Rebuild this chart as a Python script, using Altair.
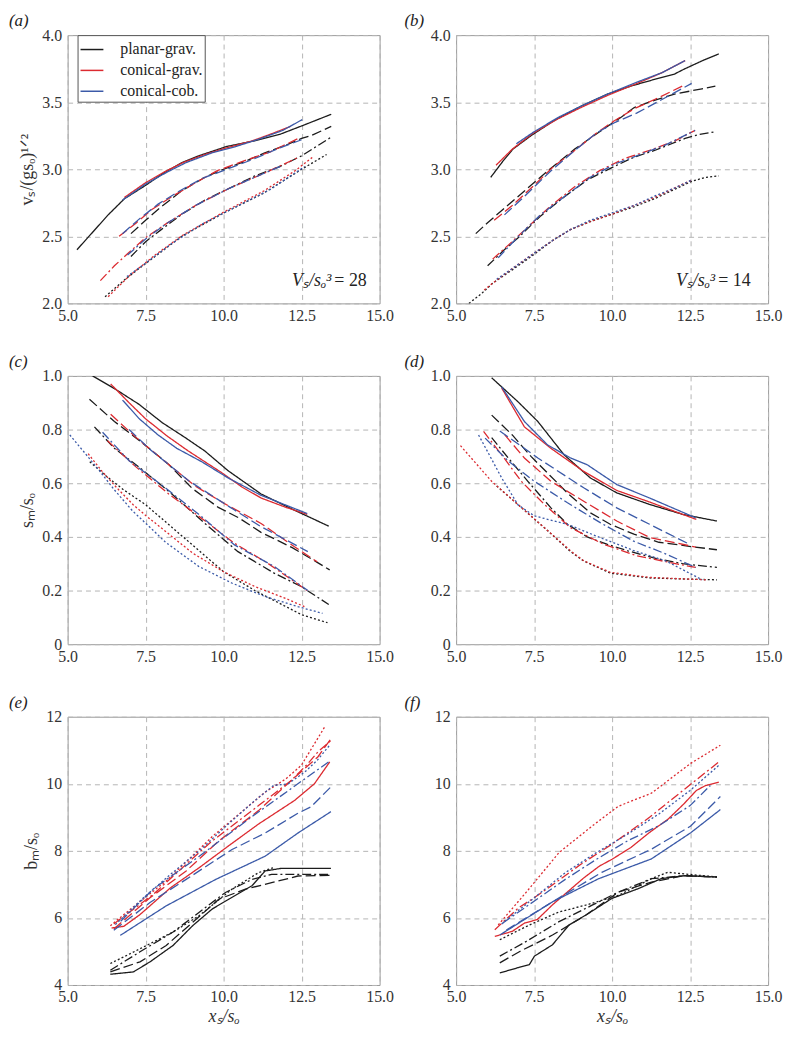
import altair as alt
import pandas as pd

MODELS = ["planar-grav.", "conical-grav.", "conical-cob."]
MODEL_COLORS = ["#1c1c1c", "#dc2a30", "#3b5aa8"]
STYLES = ["solid", "dash", "dashdot", "dot"]
STYLE_DASH = [[1, 0], [10, 4], [9, 3, 2, 3], [2, 2.2]]
STYLE_WIDTH = [1.3, 1.3, 1.3, 1.7]

X_TICKS = [5.0, 7.5, 10.0, 12.5, 15.0]

# ---------------- panel (a): v_s/(g s_o)^1/2, V_s/s_o^3 = 28 ----------------
a_blk_solid = [[5.3, 2.4], [5.8, 2.53], [6.3, 2.66], [6.82, 2.78], [7.5, 2.88], [8.13, 2.98], [8.67, 3.05], [9.2, 3.1], [10.1, 3.17], [10.95, 3.21], [11.8, 3.26], [12.58, 3.33], [13.45, 3.41]]
a_red_solid = [[6.82, 2.79], [7.5, 2.9], [8.1, 2.98], [8.7, 3.05], [9.4, 3.11], [10.1, 3.16], [10.9, 3.21], [11.6, 3.27], [12.15, 3.32]]
a_blu_solid = [[6.76, 2.77], [7.5, 2.89], [8.2, 2.98], [8.8, 3.05], [9.6, 3.12], [10.4, 3.17], [11.2, 3.23], [11.9, 3.29], [12.52, 3.37]]
a_blk_dash = [[7.03, 2.52], [7.5, 2.62], [8.0, 2.72], [8.66, 2.84], [9.4, 2.94], [10.0, 3.0], [10.7, 3.06], [11.3, 3.12], [12.0, 3.18], [12.5, 3.23], [12.8, 3.25], [13.45, 3.32]]
a_red_dash = [[6.65, 2.5], [7.2, 2.6], [7.7, 2.7], [8.3, 2.79], [9.1, 2.9], [9.8, 2.99], [10.5, 3.05], [11.5, 3.13], [12.4, 3.23]]
a_blu_dash = [[6.76, 2.52], [7.3, 2.63], [7.9, 2.74], [8.6, 2.84], [9.3, 2.93], [10.1, 3.0], [10.9, 3.07], [11.7, 3.15], [12.5, 3.22]]
a_blk_dd = [[7.03, 2.35], [7.5, 2.46], [8.0, 2.55], [8.7, 2.67], [9.4, 2.77], [10.2, 2.86], [11.0, 2.95], [11.8, 3.02], [12.5, 3.1], [13.45, 3.24]]
a_red_dd = [[6.05, 2.17], [6.5, 2.28], [6.92, 2.37], [7.5, 2.49], [8.2, 2.6], [9.1, 2.73], [10.2, 2.86], [11.3, 2.97], [12.41, 3.09]]
a_blu_dd = [[6.92, 2.36], [7.5, 2.48], [8.2, 2.6], [9.1, 2.73], [10.2, 2.86], [11.3, 2.97], [11.9, 3.03]]
a_blk_dot = [[6.2, 2.05], [6.9, 2.19], [7.8, 2.35], [8.66, 2.5], [9.97, 2.67], [11.27, 2.82], [12.5, 3.0], [13.3, 3.11]]
a_red_dot = [[6.3, 2.05], [7.0, 2.21], [7.8, 2.36], [8.7, 2.51], [10.0, 2.68], [11.3, 2.84], [12.3, 2.99], [12.85, 3.09]]
a_blu_dot = [[6.9, 2.2], [7.5, 2.3], [8.3, 2.44], [9.3, 2.59], [10.4, 2.72], [11.5, 2.85], [12.6, 3.02]]

# ---------------- panel (b): v_s/(g s_o)^1/2, V_s/s_o^3 = 14 ----------------
b_blk_solid = [[6.11, 2.94], [6.5, 3.06], [6.82, 3.15], [7.4, 3.25], [8.12, 3.36], [9.0, 3.47], [9.85, 3.56], [10.6, 3.62], [11.36, 3.67], [12.0, 3.71], [12.34, 3.75], [12.9, 3.81], [13.42, 3.86]]
b_red_solid = [[6.28, 3.03], [6.8, 3.15], [7.47, 3.27], [8.3, 3.38], [9.0, 3.46], [9.85, 3.55], [10.8, 3.64], [11.6, 3.72], [12.34, 3.81]]
b_blu_solid = [[6.93, 3.19], [7.5, 3.28], [8.3, 3.39], [9.0, 3.47], [9.85, 3.56], [10.8, 3.65], [11.6, 3.72], [12.34, 3.81]]
b_blk_dash = [[5.63, 2.52], [6.0, 2.6], [6.5, 2.7], [7.2, 2.84], [8.0, 3.0], [8.8, 3.15], [9.6, 3.28], [10.3, 3.39], [10.71, 3.46], [11.3, 3.51], [12.0, 3.56], [12.88, 3.6], [13.31, 3.62]]
b_red_dash = [[6.22, 2.62], [6.8, 2.73], [7.5, 2.88], [8.12, 3.02], [8.8, 3.14], [9.5, 3.27], [10.06, 3.36], [10.7, 3.45], [11.36, 3.52], [11.9, 3.58], [12.34, 3.63]]
b_blu_dash = [[6.55, 2.66], [7.2, 2.8], [8.0, 2.98], [8.8, 3.14], [9.5, 3.27], [10.1, 3.35], [10.8, 3.42], [11.6, 3.52], [12.55, 3.64]]
b_blk_dd = [[6.01, 2.28], [6.5, 2.39], [7.04, 2.5], [7.7, 2.65], [8.44, 2.79], [9.2, 2.92], [10.06, 3.02], [10.7, 3.09], [11.36, 3.14], [12.34, 3.23], [12.8, 3.26], [13.31, 3.28]]
b_red_dd = [[6.17, 2.33], [6.7, 2.44], [7.3, 2.57], [8.0, 2.72], [8.8, 2.87], [9.6, 2.99], [10.4, 3.08], [11.2, 3.14], [12.0, 3.21], [12.66, 3.29]]
b_blu_dd = [[6.35, 2.34], [7.0, 2.5], [7.7, 2.66], [8.5, 2.8], [9.3, 2.94], [10.1, 3.04], [10.9, 3.11], [11.7, 3.18], [12.66, 3.29]]
b_blk_dot = [[5.41, 2.0], [5.8, 2.07], [6.17, 2.15], [6.8, 2.25], [7.47, 2.36], [8.1, 2.47], [8.66, 2.55], [9.3, 2.61], [10.06, 2.67], [10.7, 2.72], [11.36, 2.78], [12.0, 2.85], [12.55, 2.91], [13.0, 2.94], [13.42, 2.95]]
b_red_dot = [[5.9, 2.1], [6.17, 2.15], [6.8, 2.26], [7.47, 2.37], [8.1, 2.47], [8.66, 2.55], [9.3, 2.61], [10.06, 2.67], [10.7, 2.73], [11.36, 2.79], [12.0, 2.86], [12.55, 2.92]]
b_blu_dot = [[6.3, 2.18], [6.8, 2.26], [7.47, 2.37], [8.1, 2.47], [8.66, 2.55], [9.3, 2.62], [10.06, 2.68], [10.7, 2.73], [11.36, 2.8], [12.0, 2.86], [12.55, 2.92]]

# ---------------- panel (c): s_m/s_o, V_s/s_o^3 = 28 ----------------
c_blk_solid = [[5.8, 1.0], [6.54, 0.95], [7.29, 0.894], [8.03, 0.826], [8.77, 0.77], [9.4, 0.72], [10.14, 0.647], [11.2, 0.56], [12.26, 0.5], [13.37, 0.44]]
c_red_solid = [[6.38, 0.97], [6.97, 0.9], [7.5, 0.84], [8.2, 0.775], [8.87, 0.72], [9.93, 0.64], [10.6, 0.585], [11.2, 0.545], [12.0, 0.51], [12.68, 0.484]]
c_blu_solid = [[6.76, 0.91], [7.3, 0.84], [7.9, 0.78], [8.5, 0.73], [9.3, 0.68], [10.14, 0.62], [11.2, 0.555], [12.68, 0.487]]
c_blk_dash = [[5.7, 0.913], [6.5, 0.83], [7.18, 0.77], [8.24, 0.67], [9.0, 0.58], [9.83, 0.51], [10.5, 0.47], [11.2, 0.417], [12.2, 0.36], [13.0, 0.305], [13.4, 0.277]]
c_red_dash = [[6.38, 0.857], [7.2, 0.77], [8.03, 0.69], [9.08, 0.59], [10.03, 0.524], [11.2, 0.45], [12.26, 0.364], [13.0, 0.307]]
c_blu_dash = [[6.97, 0.8], [7.7, 0.72], [8.87, 0.61], [10.35, 0.5], [11.2, 0.438], [12.37, 0.366], [12.7, 0.345]]
c_blk_dd = [[5.86, 0.81], [6.5, 0.73], [7.29, 0.66], [8.34, 0.56], [9.4, 0.45], [10.46, 0.345], [11.62, 0.265], [12.47, 0.216], [13.37, 0.148]]
c_red_dd = [[6.28, 0.758], [7.2, 0.66], [8.24, 0.56], [9.4, 0.46], [10.35, 0.376], [11.41, 0.302], [12.68, 0.2]]
c_blu_dd = [[6.12, 0.79], [6.97, 0.684], [8.03, 0.592], [9.3, 0.475], [10.35, 0.37], [11.62, 0.29], [12.7, 0.2]]
c_blk_dot = [[5.71, 0.68], [6.2, 0.63], [6.8, 0.575], [7.5, 0.52], [8.2, 0.45], [9.0, 0.37], [10.0, 0.27], [11.0, 0.2], [12.0, 0.14], [12.5, 0.11], [13.33, 0.08]]
c_red_dot = [[5.66, 0.71], [6.1, 0.645], [6.6, 0.58], [7.1, 0.52], [7.5, 0.48], [8.2, 0.415], [9.0, 0.34], [10.0, 0.27], [11.0, 0.215], [12.0, 0.17], [12.59, 0.14]]
c_blu_dot = [[5.07, 0.78], [5.5, 0.72], [6.03, 0.645], [6.5, 0.575], [7.08, 0.497], [7.6, 0.44], [8.14, 0.38], [9.2, 0.29], [10.26, 0.228], [11.32, 0.178], [12.38, 0.14], [13.17, 0.115]]

# ---------------- panel (d): s_m/s_o, V_s/s_o^3 = 14 ----------------
d_blk_solid = [[6.14, 0.993], [6.98, 0.904], [7.62, 0.83], [8.46, 0.706], [9.3, 0.62], [10.15, 0.564], [11.2, 0.521], [12.26, 0.484], [13.36, 0.459]]
d_red_solid = [[6.46, 0.955], [7.19, 0.81], [8.04, 0.73], [9.09, 0.644], [10.15, 0.573], [11.2, 0.53], [12.7, 0.465]]
d_blu_solid = [[6.46, 0.959], [7.19, 0.83], [7.93, 0.743], [8.67, 0.694], [9.2, 0.669], [10.15, 0.595], [11.2, 0.545], [12.68, 0.471]]
d_blk_dash = [[6.14, 0.854], [6.8, 0.78], [7.4, 0.7], [8.0, 0.63], [8.6, 0.56], [9.3, 0.49], [9.94, 0.447], [10.7, 0.41], [11.5, 0.38], [12.47, 0.365], [13.36, 0.352]]
d_red_dash = [[6.56, 0.78], [7.19, 0.694], [8.04, 0.607], [9.09, 0.533], [10.15, 0.459], [11.2, 0.398], [12.68, 0.362]]
d_blu_dash = [[6.4, 0.795], [7.62, 0.694], [9.09, 0.583], [10.15, 0.508], [11.2, 0.447], [12.47, 0.373]]
d_blk_dd = [[6.14, 0.77], [6.7, 0.69], [7.3, 0.607], [8.04, 0.508], [8.57, 0.447], [9.2, 0.4], [9.83, 0.373], [10.5, 0.348], [11.4, 0.32], [12.26, 0.3], [13.36, 0.286]]
d_red_dd = [[5.88, 0.793], [6.46, 0.706], [7.09, 0.607], [7.83, 0.521], [8.67, 0.434], [9.72, 0.373], [10.78, 0.33], [11.83, 0.305], [12.68, 0.286]]
d_blu_dd = [[5.93, 0.768], [6.7, 0.68], [7.51, 0.607], [8.57, 0.527], [9.62, 0.453], [10.67, 0.385], [11.73, 0.336], [12.68, 0.286]]
d_blk_dot = [[6.3, 0.59], [6.98, 0.521], [7.83, 0.434], [8.67, 0.345], [9.09, 0.31], [9.94, 0.265], [11.2, 0.247], [12.3, 0.243], [13.36, 0.24]]
d_red_dot = [[5.14, 0.74], [6.14, 0.607], [6.98, 0.521], [7.83, 0.434], [8.67, 0.348], [9.09, 0.311], [9.94, 0.268], [11.2, 0.249], [13.0, 0.24]]
d_blu_dot = [[5.72, 0.78], [6.46, 0.62], [6.98, 0.52], [7.51, 0.478], [8.57, 0.447], [9.62, 0.397], [10.67, 0.35], [11.73, 0.31], [12.89, 0.24]]

# ---------------- panel (e): b_m/s_o, V_s/s_o^3 = 28 ----------------
e_blk_solid = [[6.37, 4.32], [7.11, 4.39], [7.64, 4.69], [8.38, 5.18], [9.01, 5.77], [9.64, 6.27], [10.17, 6.56], [10.91, 6.96], [11.33, 7.4], [11.86, 7.48], [13.44, 7.48]]
e_red_solid = [[6.41, 5.7], [6.8, 5.75], [7.32, 6.1], [8.3, 6.9], [9.22, 7.5], [10.16, 8.15], [11.12, 8.8], [12.27, 9.5], [12.91, 10.0], [13.4, 10.65]]
e_blu_solid = [[6.69, 5.48], [8.16, 6.36], [9.75, 7.15], [11.33, 7.84], [12.38, 8.53], [13.44, 9.17]]
e_blk_dash = [[6.37, 4.39], [7.32, 4.69], [8.16, 5.18], [9.01, 5.87], [9.85, 6.56], [10.7, 6.86], [11.54, 7.05], [12.38, 7.25], [13.44, 7.27]]
e_red_dash = [[6.48, 5.67], [7.64, 6.6], [8.8, 7.4], [9.85, 8.3], [11.12, 9.2], [12.17, 10.1], [13.02, 10.8], [13.44, 11.34]]
e_blu_dash = [[6.48, 5.63], [7.64, 6.46], [8.8, 7.15], [10.27, 8.04], [11.33, 8.53], [12.38, 9.12], [12.81, 9.32], [13.44, 9.91]]
e_blk_dd = [[6.37, 4.44], [7.32, 4.99], [8.38, 5.58], [9.22, 6.17], [10.06, 6.76], [10.91, 7.15], [11.54, 7.3], [13.44, 7.3]]
e_red_dd = [[6.48, 5.82], [7.74, 6.7], [8.8, 7.6], [9.64, 8.3], [11.12, 9.35], [12.17, 10.1], [12.7, 10.6], [13.02, 10.95], [13.44, 11.29]]
e_blu_dd = [[6.7, 5.9], [7.74, 6.86], [9.22, 7.84], [10.91, 9.02], [12.38, 10.0], [13.44, 10.7]]
e_blk_dot = [[6.37, 4.64], [7.32, 5.08], [8.38, 5.58], [9.22, 6.07], [10.27, 6.86], [11.12, 7.35], [11.6, 7.5]]
e_red_dot = [[6.37, 5.77], [7.2, 6.4], [8.16, 7.1], [9.0, 7.85], [9.64, 8.43], [10.5, 9.1], [11.33, 9.75], [12.0, 10.15], [12.49, 10.55], [13.23, 11.68]]
e_blu_dot = [[6.53, 5.8], [7.43, 6.6], [8.3, 7.3], [9.22, 8.0], [10.27, 8.9], [11.0, 9.5], [11.6, 9.95], [12.07, 10.0], [12.6, 10.35], [13.0, 10.7], [13.39, 11.14]]

# ---------------- panel (f): b_m/s_o, V_s/s_o^3 = 14 ----------------
f_blk_solid = [[6.4, 4.36], [7.0, 4.52], [7.35, 4.61], [7.51, 4.86], [8.09, 5.2], [8.62, 5.79], [9.15, 6.08], [9.99, 6.58], [10.83, 6.87], [11.57, 7.17], [12.31, 7.26], [13.36, 7.22]]
f_red_solid = [[6.24, 5.45], [6.8, 5.6], [7.2, 5.85], [7.6, 5.95], [8.1, 6.4], [8.6, 6.8], [9.1, 7.2], [9.6, 7.55], [10.0, 7.75], [10.6, 8.1], [11.2, 8.55], [11.8, 8.95], [12.3, 9.4], [12.7, 9.8], [13.0, 9.95], [13.42, 10.05]]
f_blu_solid = [[6.4, 5.49], [8.09, 6.48], [9.57, 7.17], [11.26, 7.76], [12.52, 8.54], [13.47, 9.23]]
f_blk_dash = [[6.4, 4.66], [7.04, 5.0], [8.09, 5.49], [9.15, 6.08], [10.2, 6.77], [11.26, 7.07], [12.31, 7.26], [13.36, 7.22]]
f_blu_dash = [[6.61, 5.64], [8.09, 6.48], [9.67, 7.36], [11.26, 8.05], [12.52, 8.74], [13.47, 9.62]]
f_blk_dd = [[6.4, 4.86], [7.25, 5.3], [8.3, 5.89], [9.36, 6.38], [10.2, 6.77], [11.26, 7.17], [12.31, 7.26], [13.36, 7.22]]
f_red_dd = [[6.24, 5.65], [7.0, 6.3], [7.5, 6.6], [8.04, 6.95], [9.0, 7.6], [10.0, 8.2], [10.6, 8.6], [11.2, 9.0], [11.8, 9.45], [12.47, 9.95], [13.42, 10.65]]
f_blu_dd = [[6.5, 5.85], [7.5, 6.5], [8.5, 7.15], [9.5, 7.75], [10.5, 8.3], [11.5, 8.75], [12.5, 9.35], [13.15, 9.95]]
f_blk_dot = [[6.4, 5.35], [7.35, 5.79], [8.3, 6.18], [9.15, 6.38], [10.2, 6.67], [11.26, 7.17], [11.78, 7.36], [13.36, 7.22]]
f_red_dot = [[6.35, 5.79], [7.25, 6.77], [8.3, 7.95], [9.36, 8.74], [10.2, 9.33], [11.26, 9.72], [12.52, 10.61], [13.47, 11.15]]
f_blu_dot = [[6.46, 5.82], [7.5, 6.6], [8.5, 7.35], [9.5, 7.95], [10.5, 8.5], [11.5, 9.1], [12.5, 9.8], [13.42, 10.55]]

NOTE_A = ["Vₛ/sₒ³", "= 28"]
NOTE_B = ["Vₛ/sₒ³", "= 14"]

FONT = "Liberation Serif"
PW = 314
PH = 270


def build_df(series):
    rows = []
    for model, style, pts in series:
        for x, y in pts:
            rows.append({"x": x, "y": y, "model": model, "style": style, "sid": model + "|" + style})
    return pd.DataFrame(rows)


def series_for(prefix):
    g = globals()
    out = []
    for code, model in zip(["blk", "red", "blu"], MODELS):
        for scode, style in zip(["solid", "dash", "dd", "dot"], STYLES):
            name = f"{prefix}_{code}_{scode}"
            if name in g:
                out.append((model, style, g[name]))
    return out


def panel(prefix, ydom, yvals, ytitle, xtitle, label_dx, legend=False, note=None, note_x=None, note_y=None):
    df = build_df(series_for(prefix))
    if prefix in ("c", "d"):
        ylab = "datum.value == 0 ? '0' : format(datum.value, '.1f')"
    elif prefix in ("e", "f"):
        ylab = "format(datum.value, 'd')"
    else:
        ylab = "format(datum.value, '.1f')"

    xaxis_kw = dict(values=X_TICKS, format=".1f", labelPadding=4, labelFlush=False)
    if xtitle:
        xaxis_kw.update(title=xtitle, titleFontStyle="italic", titlePadding=3)
    else:
        xaxis_kw.update(title=None)
    yaxis_kw = dict(values=yvals, labelExpr=ylab, labelPadding=6, labelFlush=False)
    if ytitle:
        yaxis_kw.update(title=ytitle, titlePadding=5)
    else:
        yaxis_kw.update(title=None)

    xenc = alt.X("x:Q", scale=alt.Scale(domain=[5, 15], nice=False, zero=False), axis=alt.Axis(**xaxis_kw))
    yenc = alt.Y("y:Q", scale=alt.Scale(domain=ydom, nice=False, zero=False), axis=alt.Axis(**yaxis_kw))

    if legend:
        color = alt.Color(
            "model:N",
            scale=alt.Scale(domain=MODELS, range=MODEL_COLORS),
            sort=MODELS,
            legend=alt.Legend(
                title=None, orient="none", legendX=10, legendY=0,
                symbolType="stroke", symbolSize=529, symbolStrokeWidth=1.5,
                labelFont=FONT, labelFontSize=16, labelColor="#222", labelOffset=16,
                rowPadding=0, padding=2, strokeColor="#555", fillColor="white",
            ),
        )
    else:
        color = alt.Color("model:N", scale=alt.Scale(domain=MODELS, range=MODEL_COLORS), legend=None)

    lines = alt.Chart(df).mark_line(clip=True).encode(
        x=xenc,
        y=yenc,
        color=color,
        strokeDash=alt.StrokeDash("style:N", scale=alt.Scale(domain=STYLES, range=STYLE_DASH), legend=None),
        strokeWidth=alt.StrokeWidth("style:N", scale=alt.Scale(domain=STYLES, range=STYLE_WIDTH), legend=None),
        detail="sid:N",
    )
    layers = [lines]
    if note:
        ndf = pd.DataFrame({"x": [note_x], "y": [note_y], "t1": [note[0]], "t2": [note[1]]})
        t1 = alt.Chart(ndf).mark_text(align="right", baseline="middle", dx=-3, font=FONT, fontSize=18,
                                      fontStyle="italic", color="#222").encode(x="x:Q", y="y:Q", text="t1:N")
        t2 = alt.Chart(ndf).mark_text(align="left", baseline="middle", font=FONT, fontSize=18,
                                      color="#222").encode(x="x:Q", y="y:Q", text="t2:N")
        layers += [t1, t2]
    lab_df = pd.DataFrame({"t": [f"({prefix})"]})
    lab = alt.Chart(lab_df).mark_text(align="left", baseline="middle", font=FONT, fontSize=17,
                                      fontStyle="italic", color="#222").encode(
        x=alt.value(label_dx), y=alt.value(-14), text="t:N")
    layers.append(lab)
    return alt.layer(*layers).properties(width=PW, height=PH)


pa = panel("a", [2, 4], [2.0, 2.5, 3.0, 3.5, 4.0], "vₛ/(gsₒ)¹ᐟ²", None, -59, legend=True,
           note=NOTE_A, note_x=13.55, note_y=2.17)
pb = panel("b", [2, 4], [2.0, 2.5, 3.0, 3.5, 4.0], None, None, -52, note=NOTE_B, note_x=13.4, note_y=2.17)
pc = panel("c", [0, 1], [0, 0.2, 0.4, 0.6, 0.8, 1.0], "sₘ/sₒ", None, -59)
pd_ = panel("d", [0, 1], [0, 0.2, 0.4, 0.6, 0.8, 1.0], None, None, -52)
pe = panel("e", [4, 12], [4, 6, 8, 10, 12], "bₘ/sₒ", "xₛ/sₒ", -59)
pf = panel("f", [4, 12], [4, 6, 8, 10, 12], None, "xₛ/sₒ", -52)

chart = alt.concat(
    pa, pb, pc, pd_, pe, pf, columns=2, spacing={"row": 73, "column": 77}, bounds="flush"
).resolve_scale(
    color="independent", strokeDash="independent", strokeWidth="independent", x="independent", y="independent"
).properties(
    padding={"left": 0, "top": 0, "right": 0, "bottom": 0}
).configure_view(
    stroke="#9a9a9a", strokeWidth=1
).configure_axis(
    grid=True, gridColor="#b4b4b4", gridDash=[5, 4], gridWidth=1,
    domain=False, ticks=False,
    labelFont=FONT, labelFontSize=16, labelColor="#333",
    titleFont=FONT, titleFontSize=18, titleFontWeight="normal", titleColor="#333",
)

chart.save("out.html", embed_options={"renderer": "svg", "actions": False})
